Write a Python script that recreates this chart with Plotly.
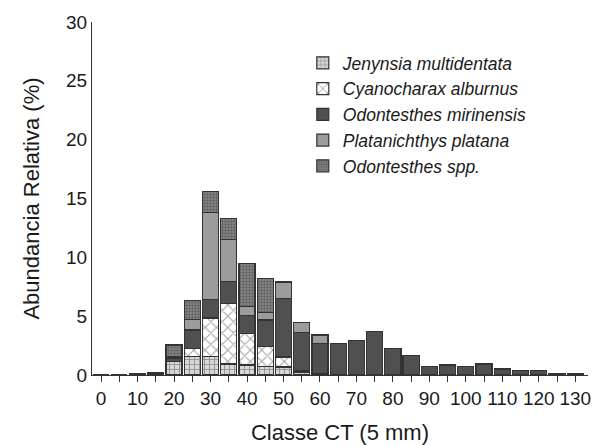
import plotly.graph_objects as go

# Length classes (mm, 5 mm bins)
classes = [0, 5, 10, 15, 20, 25, 30, 35, 40, 45, 50, 55, 60, 65, 70, 75, 80, 85, 90,
           95, 100, 105, 110, 115, 120, 125, 130]
tick_labels = [str(c) if c % 10 == 0 else "" for c in classes]

jenynsia = [0, 0, 0, 0.12, 1.13, 1.55, 1.55, 0.94, 0.85, 0.70, 0.68, 0.25, 0.10,
            0, 0, 0, 0, 0, 0, 0, 0, 0, 0, 0, 0, 0, 0]
cyanocharax = [0, 0, 0, 0, 0, 0.72, 3.30, 5.16, 2.70, 1.70, 0.85, 0.15, 0,
               0, 0, 0, 0, 0, 0, 0, 0, 0, 0, 0, 0, 0, 0]
mirinensis = [0, 0, 0.12, 0.08, 0.32, 1.56, 1.55, 1.84, 1.53, 2.28, 4.97, 3.20, 2.60,
              2.70, 2.92, 3.69, 2.27, 1.65, 0.71, 0.85, 0.71, 0.94, 0.51, 0.37, 0.37, 0.14, 0.14]
platana = [0, 0, 0, 0, 0.10, 0.91, 7.40, 3.56, 0.72, 0.65, 1.40, 0.88, 0.70,
           0, 0, 0, 0, 0, 0, 0, 0, 0, 0, 0, 0, 0, 0]
spp = [0, 0, 0, 0, 1.00, 1.56, 1.80, 1.78, 3.70, 2.87, 0.05, 0, 0,
       0, 0, 0, 0, 0, 0, 0, 0, 0, 0, 0, 0, 0, 0]

outline = dict(color="#333333", width=1.2)

fig = go.Figure()
fig.add_trace(go.Bar(
    x=classes, y=jenynsia, name="<i>Jenynsia multidentata</i>",
    marker=dict(color="#d0d0d0", line=outline,
                pattern=dict(shape="+", fgcolor="#555555", bgcolor="#d8d8d8", size=5, solidity=0.35)),
))
fig.add_trace(go.Bar(
    x=classes, y=cyanocharax, name="<i>Cyanocharax alburnus</i>",
    marker=dict(color="white", line=outline,
                pattern=dict(shape="x", fgcolor="#444444", bgcolor="white", size=8, solidity=0.25)),
))
fig.add_trace(go.Bar(
    x=classes, y=mirinensis, name="<i>Odontesthes mirinensis</i>",
    marker=dict(color="#505050", line=outline),
))
fig.add_trace(go.Bar(
    x=classes, y=platana, name="<i>Platanichthys platana</i>",
    marker=dict(color="#9c9c9c", line=outline),
))
fig.add_trace(go.Bar(
    x=classes, y=spp, name="<i>Odontesthes spp.</i>",
    marker=dict(color="#777777", line=outline,
                pattern=dict(shape=".", fgcolor="#333333", bgcolor="#8c8c8c", size=3, solidity=0.5)),
))

fig.update_layout(
    width=598, height=445,
    margin=dict(l=92, r=10, t=22, b=70),
    barmode="stack",
    bargap=0.12,
    plot_bgcolor="white",
    paper_bgcolor="white",
    font=dict(family="Liberation Sans, Arial, sans-serif", size=20, color="#1a1a1a"),
    showlegend=True,
    legend=dict(
        x=0.425, y=0.935, xanchor="left", yanchor="top",
        traceorder="normal",
        font=dict(size=17.5, color="#1a1a1a"),
        bgcolor="rgba(0,0,0,0)",
        itemwidth=30,
    ),
    xaxis=dict(
        range=[-2.5, 133.5],
        tickmode="array",
        tickvals=classes,
        ticktext=tick_labels,
        ticks="outside", ticklen=6, tickcolor="#333333", tickwidth=1,
        showline=True, linecolor="#333333", linewidth=1,
        showgrid=False, zeroline=False,
        automargin=False,
        title=dict(text="Classe CT (5 mm)", font=dict(size=22), standoff=18),
        tickfont=dict(size=19),
    ),
    yaxis=dict(
        range=[0, 30],
        tickvals=[0, 5, 10, 15, 20, 25, 30],
        ticks="", ticklen=0,
        showline=True, linecolor="#333333", linewidth=1,
        showgrid=False, zeroline=False,
        automargin=False,
        title=dict(text="Abundancia Relativa (%)", font=dict(size=22), standoff=20),
        tickfont=dict(size=19),
    ),
)

fig.write_html("out.html")
